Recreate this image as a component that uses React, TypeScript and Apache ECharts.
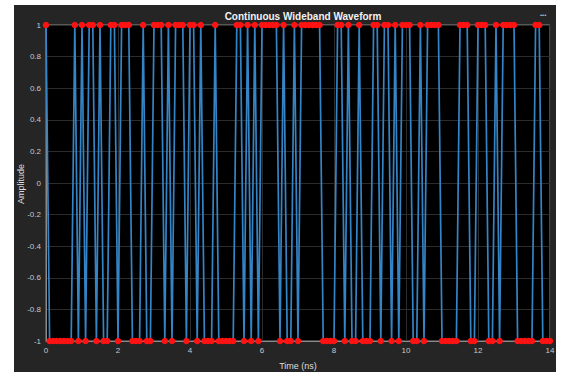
import React, { useEffect, useRef } from "react";
import * as echarts from "echarts";

const TITLE = "Continuous Wideband Waveform";
const X_NAME = "Time (ns)";
const Y_NAME = "Amplitude";
const SAMPLE_STEP_NS = 0.1;

// Amplitude samples (bipolar ±1), one per 0.1 ns, t = 0 … 14 ns
const amplitude: number[] = [
  1, -1, -1, -1, -1, -1, -1, -1, 1, -1,
  1, -1, 1, 1, -1, 1, -1, -1, 1, 1,
  -1, 1, 1, 1, -1, -1, -1, 1, -1, -1,
  1, 1, 1, -1, 1, -1, 1, 1, 1, -1,
  1, 1, -1, 1, -1, -1, -1, 1, -1, -1,
  -1, -1, -1, 1, 1, -1, 1, -1, 1, -1,
  1, 1, 1, 1, 1, -1, 1, -1, -1, 1,
  -1, 1, 1, 1, 1, 1, 1, -1, -1, -1,
  -1, 1, 1, -1, 1, -1, -1, 1, -1, -1,
  -1, 1, 1, -1, 1, 1, -1, 1, -1, 1,
  1, 1, -1, -1, 1, -1, 1, 1, 1, 1,
  -1, -1, -1, -1, -1, 1, 1, 1, -1, -1,
  1, 1, 1, -1, -1, 1, -1, 1, 1, 1,
  1, -1, -1, -1, -1, -1, 1, 1, -1, -1,
  -1,
];

const Y_TICKS = [-1, -0.8, -0.6, -0.4, -0.2, 0, 0.2, 0.4, 0.6, 0.8, 1];

export default function App() {
  const ref = useRef<HTMLDivElement>(null);
  useEffect(() => {
    if (!ref.current) return;
    const chart = echarts.init(ref.current, undefined, { renderer: "svg" });
    const data = amplitude.map((v, i) => [Number((i * SAMPLE_STEP_NS).toFixed(2)), v]);
    chart.setOption({
      animation: false,
      backgroundColor: "#ffffff",
      textStyle: { fontFamily: "Liberation Sans, Arial, sans-serif" },
      title: {
        text: TITLE,
        left: 298,
        top: 6,
        textAlign: "center",
        textStyle: { color: "#f2f2f2", fontSize: 10, fontWeight: "bold" },
      },
      graphic: [
        {
          type: "rect",
          z: -100,
          shape: { x: 14, y: 5, width: 542, height: 367 },
          style: { fill: "#252525" },
        },
        {
          type: "text",
          left: 540,
          top: 12,
          style: { text: "•••", fill: "#c0c0c0", fontSize: 6 },
        },
        {
          type: "text",
          x: 21,
          y: 184,
          rotation: Math.PI / 2,
          style: {
            text: Y_NAME,
            fill: "#dddddd",
            fontSize: 9,
            fontFamily: "Liberation Sans, Arial, sans-serif",
            textAlign: "center",
            textVerticalAlign: "middle",
          },
        },
      ],
      grid: {
        left: 46,
        top: 25,
        right: 31,
        bottom: 38,
        outerBoundsMode: "none",
        containLabel: false,
        show: true,
        backgroundColor: "#000000",
        borderColor: "#8a8a8a",
        borderWidth: 1,
      },
      xAxis: {
        type: "value",
        min: 0,
        max: 14,
        interval: 2,
        name: X_NAME,
        nameLocation: "middle",
        nameGap: 20,
        nameTextStyle: { color: "#dddddd", fontSize: 9 },
        axisLine: { show: true, onZero: false, lineStyle: { color: "#8a8a8a" } },
        axisTick: { show: false },
        axisLabel: { color: "#c8c8c8", fontSize: 8, margin: 5 },
        splitLine: { show: true, lineStyle: { color: "#2c2c2c", width: 1 } },
      },
      yAxis: {
        type: "value",
        min: -1,
        max: 1,
        interval: 0.2,
        axisLine: { show: true, onZero: false, lineStyle: { color: "#8a8a8a" } },
        axisTick: { show: false },
        axisLabel: {
          color: "#c8c8c8",
          fontSize: 8,
          margin: 5,
          formatter: (v: number) => {
            const r = Math.round(v * 10) / 10;
            return Y_TICKS.includes(r) ? String(r) : "";
          },
        },
        splitLine: { show: true, lineStyle: { color: "#2c2c2c", width: 1 } },
      },
      series: [
        {
          type: "line",
          data,
          symbol: "circle",
          symbolSize: 6.5,
          showSymbol: true,
          lineStyle: { color: "#3484c6", width: 1.7 },
          itemStyle: { color: "#ff1212", borderWidth: 0 },
          z: 3,
        },
      ],
    });
    return () => chart.dispose();
  }, []);
  return (
    <div
      ref={ref}
      style={{ position: "absolute", left: 0, top: 0, width: 581, height: 379 }}
    />
  );
}
